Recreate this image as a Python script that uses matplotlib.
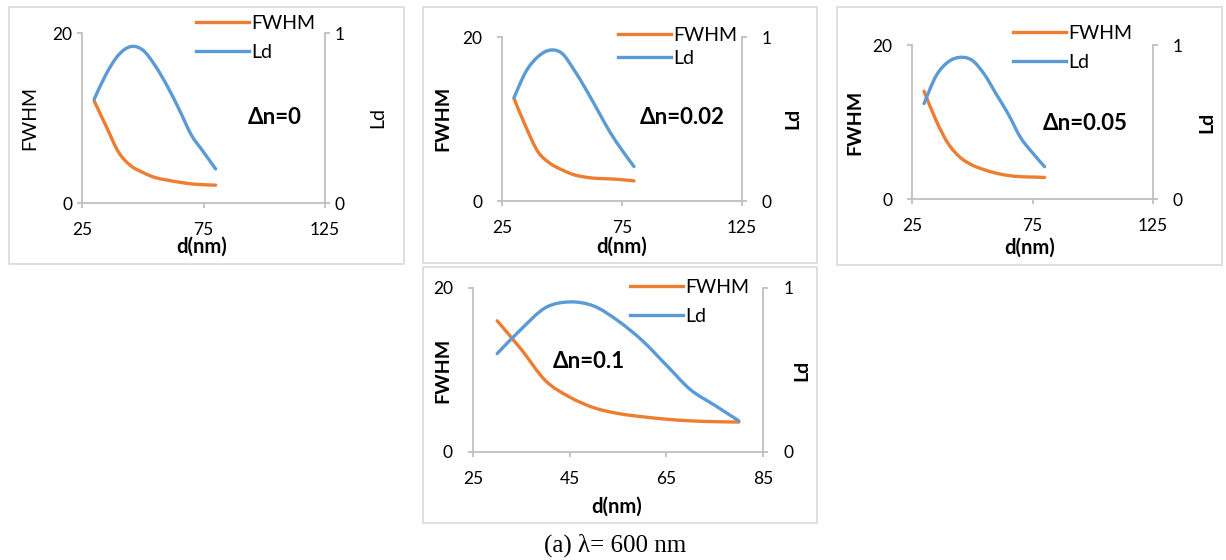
# FWHM and Ld against d(nm) for four values of delta n, lambda = 600 nm

import matplotlib
matplotlib.use('Agg')
import matplotlib.pyplot as plt
from matplotlib.patches import Rectangle, PathPatch
from matplotlib.path import Path
from matplotlib.lines import Line2D

plt.rcParams['font.family'] = ['Lato', 'DejaVu Sans']

d = [30, 35, 40, 45, 50, 55, 60, 65, 70, 75, 80]

fwhm_0 = [12.0, 9.0, 6.0, 4.4, 3.6, 3.0, 2.7, 2.45, 2.25, 2.15, 2.1]
ld_0 = [0.61, 0.76, 0.87, 0.92, 0.90, 0.81, 0.69, 0.55, 0.40, 0.30, 0.20]

fwhm_002 = [12.5, 9.0, 6.0, 4.6, 3.8, 3.2, 2.9, 2.75, 2.7, 2.6, 2.45]
ld_002 = [0.63, 0.79, 0.88, 0.92, 0.90, 0.80, 0.68, 0.55, 0.42, 0.31, 0.21]

fwhm_005 = [14.0, 10.2, 7.2, 5.4, 4.4, 3.8, 3.35, 3.05, 2.9, 2.85, 2.8]
ld_005 = [0.62, 0.80, 0.89, 0.92, 0.90, 0.81, 0.68, 0.55, 0.40, 0.30, 0.21]

fwhm_01 = [16.0, 12.5, 8.7, 6.7, 5.4, 4.7, 4.3, 4.0, 3.8, 3.7, 3.65]
ld_01 = [0.60, 0.75, 0.88, 0.915, 0.89, 0.80, 0.68, 0.53, 0.38, 0.285, 0.19]

labels = ['\u0394n=0', '\u0394n=0.02', '\u0394n=0.05', '\u0394n=0.1']

W, H = 1226, 560
ORANGE = '#ED7D31'
BLUE = '#5B9BD5'
GREY = '#BFBFBF'

fig = plt.figure(figsize=(W / 100, H / 100), dpi=100)


def fx(px):
    return px / W


def fy(py):
    return 1 - py / H


def smooth(xs, ys):
    # excel-like smoothed line: bezier segments through every data point
    pts = list(zip(xs, ys))
    n = len(pts)
    verts = [pts[0]]
    codes = [Path.MOVETO]
    for i in range(n - 1):
        p0 = pts[max(i - 1, 0)]
        p1 = pts[i]
        p2 = pts[i + 1]
        p3 = pts[min(i + 2, n - 1)]
        c1 = (p1[0] + (p2[0] - p0[0]) / 6, p1[1] + (p2[1] - p0[1]) / 6)
        c2 = (p2[0] - (p3[0] - p1[0]) / 6, p2[1] - (p3[1] - p1[1]) / 6)
        verts += [c1, c2, p2]
        codes += [Path.CURVE4] * 3
    return Path(verts, codes)


# layout of each panel in pixels
panels = [
    dict(ax=(82, 33, 325, 203), frame=(9, 7, 404, 264), xlim=(25, 125), xt=[25, 75, 125],
         leg=(196, 38), lsp=0.6, note=(275, 117), yl=(30, 118), y2=(378, 118),
         xl=(202, 247), bold=False, ypad=3.5),
    dict(ax=(502, 37, 742, 201), frame=(423, 7, 817, 263), xlim=(25, 125), xt=[25, 75, 125],
         leg=(618, 47), lsp=0.3, note=(682, 118), yl=(443, 118), y2=(793, 118),
         xl=(622, 247), bold=True, ypad=10.5),
    dict(ax=(912, 45, 1153, 199), frame=(837, 7, 1222, 265), xlim=(25, 125), xt=[25, 75, 125],
         leg=(1013, 48), lsp=0.6, note=(1085, 123), yl=(855, 122), y2=(1207, 122),
         xl=(1030, 248), bold=True, ypad=10.5),
    dict(ax=(473, 288, 763, 452), frame=(423, 267, 817, 523), xlim=(25, 85), xt=[25, 45, 65, 85],
         leg=(630, 302), lsp=0.6, note=(589, 362), yl=(443, 370), y2=(802, 370),
         xl=(617, 507), bold=True, ypad=11),
]
fwhms = [fwhm_0, fwhm_002, fwhm_005, fwhm_01]
lds = [ld_0, ld_002, ld_005, ld_01]

for p, fw, ld, lab in zip(panels, fwhms, lds, labels):
    fl, ft, fr, fb = p['frame']
    fig.patches.append(Rectangle((fx(fl), fy(fb)), (fr - fl) / W, (fb - ft) / H,
                                 transform=fig.transFigure, fill=False,
                                 edgecolor='#D9D9D9', lw=1.2))

    l, t, r, b = p['ax']
    ax = fig.add_axes([fx(l), fy(b), (r - l) / W, (b - t) / H])
    ax2 = ax.twinx()

    ax.add_patch(PathPatch(smooth(d, fw), fill=False, edgecolor=ORANGE, lw=2.4,
                           capstyle='round', joinstyle='round'))
    ax2.add_patch(PathPatch(smooth(d, ld), fill=False, edgecolor=BLUE, lw=2.4,
                            capstyle='round', joinstyle='round'))

    ax.set_xlim(*p['xlim'])
    ax.set_xticks(p['xt'])
    ax.set_ylim(0, 20)
    ax.set_yticks([0, 20])
    ax2.set_ylim(0, 1)
    ax2.set_yticks([0, 1])

    for a in (ax, ax2):
        a.patch.set_visible(False)
        for s in a.spines.values():
            s.set_visible(False)
    ax.spines['left'].set_visible(True)
    ax.spines['bottom'].set_visible(True)
    ax2.spines['right'].set_visible(True)
    for s in (ax.spines['left'], ax.spines['bottom'], ax2.spines['right']):
        s.set_color(GREY)
        s.set_linewidth(1.3)

    ax.tick_params(axis='x', length=3.5, width=1.3, color=GREY, pad=10, labelsize=12.5)
    ax.tick_params(axis='y', length=3.5, width=1.3, color=GREY, pad=p['ypad'], labelsize=12.5)
    ax2.tick_params(axis='y', length=3.5, width=1.3, color=GREY, pad=p['ypad'], labelsize=12.5)

    w = 'bold' if p['bold'] else 'normal'
    fig.text(fx(p['yl'][0]), fy(p['yl'][1]), 'FWHM', rotation=90, ha='center', va='center',
             fontsize=14, fontweight=w)
    fig.text(fx(p['y2'][0]), fy(p['y2'][1]), 'Ld', rotation=90, ha='center', va='center',
             fontsize=14, fontweight=w)
    fig.text(fx(p['xl'][0]), fy(p['xl'][1]), 'd(nm)', ha='center', va='center',
             fontsize=14.5, fontweight='bold')
    fig.text(fx(p['note'][0]), fy(p['note'][1]), lab, ha='center', va='center',
             fontsize=16, fontweight='bold')

    h1 = Line2D([], [], color=ORANGE, lw=2.4)
    h2 = Line2D([], [], color=BLUE, lw=2.4)
    ax.legend([h1, h2], ['FWHM', 'Ld'], loc='center left',
              bbox_to_anchor=(fx(p['leg'][0]), fy(p['leg'][1])), bbox_transform=fig.transFigure,
              frameon=False, fontsize=14, handlelength=2.7, handletextpad=0.12,
              labelspacing=p['lsp'], borderpad=0, borderaxespad=0)

fig.text(fx(615), fy(545), '(a) \u03bb= 600 nm', ha='center', va='center',
         fontsize=18, family=['Liberation Serif', 'DejaVu Serif'])

plt.savefig('out.png', dpi=100)
